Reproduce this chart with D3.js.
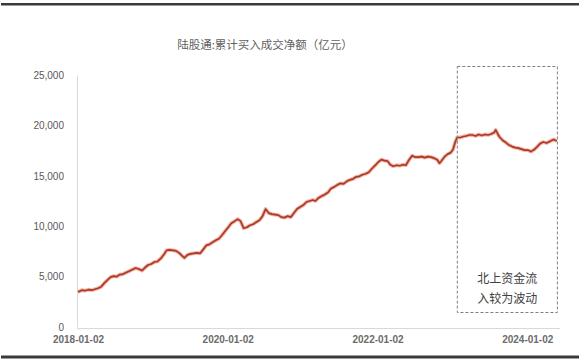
<!DOCTYPE html>
<html>
<head>
<meta charset="utf-8">
<script src="https://cdn.jsdelivr.net/npm/d3@7/dist/d3.min.js"></script>
<style>
  html, body { margin: 0; padding: 0; background: #fff; }
  svg { display: block; font-family: "Noto Sans CJK SC", "Noto Sans", sans-serif; }
</style>
</head>
<body>
<svg id="chart" width="579" height="360"></svg>
<script>
// Cumulative Stock Connect northbound net buying (100 million yuan)
const dates = [
  "2018-01-02","2018-01-20","2018-02-05","2018-02-20","2018-03-10","2018-03-25","2018-04-10","2018-04-25",
  "2018-05-10","2018-05-25","2018-06-10","2018-06-25","2018-07-10","2018-07-25","2018-08-10","2018-08-25",
  "2018-09-10","2018-09-25","2018-10-10","2018-10-25","2018-11-10","2018-11-25","2018-12-10","2018-12-25",
  "2019-01-10","2019-01-25","2019-02-10","2019-02-25","2019-03-10","2019-03-25","2019-04-10","2019-04-25",
  "2019-05-10","2019-05-25","2019-06-05","2019-06-20","2019-07-05","2019-07-20","2019-08-05","2019-08-20",
  "2019-09-05","2019-09-20","2019-10-05","2019-10-20","2019-11-05","2019-11-20","2019-12-05","2019-12-20",
  "2020-01-05","2020-01-20","2020-02-05","2020-02-20","2020-03-05","2020-03-20","2020-04-05","2020-04-20",
  "2020-05-05","2020-05-20","2020-06-05","2020-06-20","2020-07-05","2020-07-20","2020-08-05","2020-08-20",
  "2020-09-05","2020-09-20","2020-10-05","2020-10-20","2020-11-05","2020-11-20","2020-12-05","2020-12-20",
  "2021-01-05","2021-01-20","2021-02-05","2021-02-20","2021-03-05","2021-03-20","2021-04-05","2021-04-20",
  "2021-05-05","2021-05-20","2021-06-05","2021-06-20","2021-07-05","2021-07-20","2021-08-05","2021-08-20",
  "2021-09-05","2021-09-20","2021-10-05","2021-10-20","2021-11-05","2021-11-20","2021-12-05","2021-12-20",
  "2022-01-05","2022-01-20","2022-02-05","2022-02-20","2022-03-05","2022-03-20","2022-04-05","2022-04-20",
  "2022-05-05","2022-05-20","2022-06-05","2022-06-20","2022-07-05","2022-07-20","2022-08-05","2022-08-20",
  "2022-09-05","2022-09-20","2022-10-05","2022-10-20","2022-10-31","2022-11-10","2022-11-25","2022-12-10",
  "2022-12-25","2023-01-05","2023-01-15","2023-01-25","2023-02-10","2023-02-25","2023-03-10","2023-03-25",
  "2023-04-10","2023-04-25","2023-05-10","2023-05-25","2023-06-10","2023-06-25","2023-07-10","2023-07-25",
  "2023-08-01","2023-08-10","2023-08-20","2023-09-05","2023-09-20","2023-10-05","2023-10-20","2023-11-05",
  "2023-11-20","2023-12-05","2023-12-20","2024-01-05","2024-01-20","2024-02-05","2024-02-20","2024-03-05",
  "2024-03-20","2024-04-05","2024-04-20","2024-05-10","2024-05-25"
];
const values = [
  3480,3650,3600,3700,3650,3750,3850,4000,
  4350,4650,4950,5050,5000,5200,5250,5400,
  5550,5700,5850,5750,5600,5900,6150,6250,
  6450,6500,6800,7200,7600,7650,7600,7550,
  7350,7050,6850,7150,7250,7300,7350,7300,
  7700,8100,8200,8400,8600,8750,9100,9500,
  9900,10300,10500,10700,10500,9800,9900,10100,
  10200,10400,10600,11000,11700,11300,11200,11150,
  11100,10900,10850,11000,10900,11300,11700,11900,
  12100,12400,12500,12600,12500,12800,13000,13150,
  13350,13750,13900,14100,14250,14200,14450,14600,
  14700,14900,14950,15100,15200,15350,15700,16000,
  16350,16600,16500,16450,16100,15950,16050,16000,
  16100,16050,16600,17000,16850,16850,16900,16800,
  16900,16850,16750,16600,16250,16500,16900,17150,
  17300,17600,18300,18800,18800,18900,18950,19050,
  19050,18950,19100,19000,19100,19050,19150,19300,
  19550,19200,18850,18500,18300,18050,17900,17800,
  17750,17650,17550,17550,17400,17600,17900,18200,
  18350,18250,18400,18600,18450
];
const yTicks = [0, 5000, 10000, 15000, 20000, 25000];
const xTickLabels = ["2018-01-02", "2020-01-02", "2022-01-02", "2024-01-02"];
const title = "陆股通:累计买入成交净额（亿元）";
const noteLines = ["北上资金流", "入较为波动"];
const noteRange = ["2023-01-26", "2024-05-28"];

const parse = d3.timeParse("%Y-%m-%d");
const data = dates.map((d, i) => ({ date: parse(d), value: values[i] }));

const svg = d3.select("#chart");
const W = 579, H = 360;
const margin = { left: 78, right: 21, top: 75, bottom: 32 };

const x = d3.scaleTime()
  .domain([parse("2018-01-02"), parse("2024-05-31")])
  .range([margin.left, W - margin.right]);
const y = d3.scaleLinear()
  .domain([0, 25000])
  .range([H - margin.bottom - 1, margin.top]);

// frame rules top and bottom
svg.append("rect").attr("x", 1).attr("y", 3).attr("width", W - 1).attr("height", 2.5).attr("fill", "#3a3a3a");
svg.append("rect").attr("x", 1).attr("y", 355.5).attr("width", W - 1).attr("height", 3).attr("fill", "#3a3a3a");

// title
svg.append("text")
  .attr("x", 265).attr("y", 49)
  .attr("text-anchor", "middle")
  .attr("font-size", 11.5)
  .attr("fill", "#5f5f5f")
  .text(title);

// y axis
const yAxis = d3.axisLeft(y)
  .tickValues(yTicks)
  .tickSize(0)
  .tickPadding(13)
  .tickFormat(d3.format(","));
const gy = svg.append("g").attr("transform", `translate(${margin.left - 1},0)`).call(yAxis);
gy.select(".domain").attr("stroke", "#d9d9d9").attr("stroke-width", 1);
gy.selectAll("text").attr("font-size", 10).attr("fill", "#595959")
  .attr("font-family", "Arial, 'Liberation Sans', sans-serif");

// x axis
const xAxis = d3.axisBottom(x)
  .tickValues(xTickLabels.map(parse))
  .tickSize(2)
  .tickPadding(6)
  .tickFormat(d3.timeFormat("%Y-%m-%d"));
const gx = svg.append("g").attr("transform", `translate(0,${y(0) + 1})`).call(xAxis);
gx.select(".domain").attr("stroke", "#d9d9d9").attr("stroke-width", 1)
  .attr("d", `M${margin.left - 1},0.5H${W - margin.right + 2}`);
gx.selectAll(".tick line").attr("stroke", "#e6e6e6");
gx.selectAll("text").attr("font-size", 10).attr("font-weight", "bold").attr("fill", "#6b6b6b")
  .attr("font-family", "Arial, 'Liberation Sans', sans-serif");

// series line: soft red halo under a dark red-brown stroke
const line = d3.line().x(d => x(d.date)).y(d => y(d.value)).curve(d3.curveLinear);
svg.append("path").datum(data)
  .attr("d", line).attr("fill", "none")
  .attr("stroke", "#ec5a3c").attr("stroke-opacity", 0.45).attr("stroke-width", 3.8)
  .attr("stroke-linejoin", "round");
svg.append("path").datum(data)
  .attr("d", line).attr("fill", "none")
  .attr("stroke", "#a83a28").attr("stroke-width", 1.7)
  .attr("stroke-linejoin", "round");

// dashed annotation box
const bx0 = x(parse(noteRange[0])), bx1 = x(parse(noteRange[1]));
svg.append("rect")
  .attr("x", bx0).attr("y", 66.5)
  .attr("width", bx1 - bx0).attr("height", 246)
  .attr("fill", "none").attr("stroke", "#7f7f7f")
  .attr("stroke-width", 1).attr("stroke-dasharray", "3,2");
const note = svg.append("text")
  .attr("text-anchor", "middle")
  .attr("font-size", 12).attr("fill", "#404040");
noteLines.forEach((t, i) => {
  note.append("tspan").attr("x", (bx0 + bx1) / 2).attr("y", 283 + i * 20).text(t);
});
</script>
</body>
</html>
